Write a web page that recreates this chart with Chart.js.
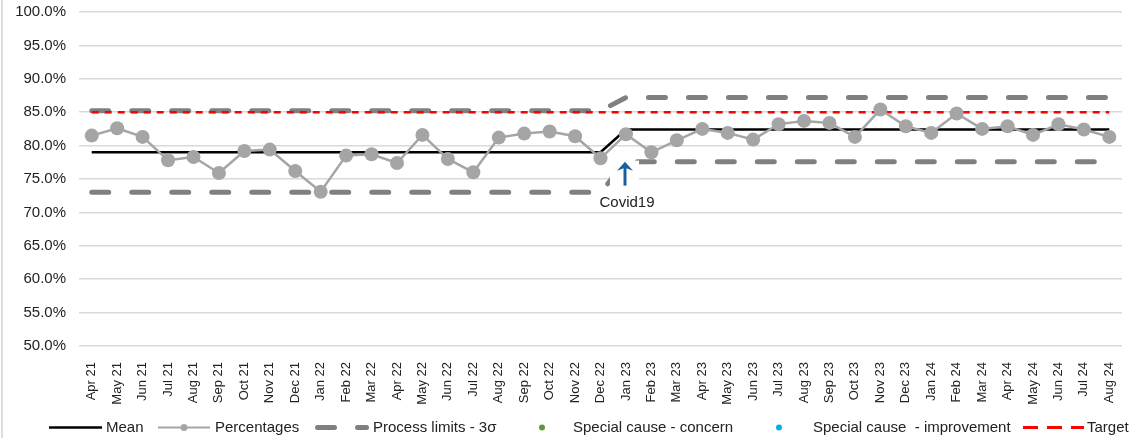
<!DOCTYPE html>
<html>
<head>
<meta charset="utf-8">
<title>SPC chart</title>
<script src="https://cdn.jsdelivr.net/npm/chart.js@4.4.1/dist/chart.umd.min.js"></script>
<style>
  html, body { margin: 0; padding: 0; background: #fff; }
  #wrap { position: relative; width: 1133px; height: 438px; overflow: hidden;
          font-family: 'Liberation Sans', Arial, sans-serif; }
  #wrap::before { content: ''; position: absolute; left: 1px; top: 0; width: 2px; height: 100%;
                  background: #dcdcdc; z-index: 2; }
  #chart { position: absolute; left: 0; top: 0; }
  #legend { position: absolute; left: 0; top: 417px; width: 1133px; height: 20px; }
  .lg-text { position: absolute; top: 0; height: 20px; line-height: 20px; font-size: 15px;
             color: #222; white-space: pre; }
  .lg-swatch { position: absolute; top: 0; }
</style>
</head>
<body>
<div id="wrap">
  <canvas id="chart" width="1133" height="438"></canvas>
  <div id="legend"></div>
</div>
<script>
// Months on the x axis
const categories = [
  'Apr 21','May 21','Jun 21','Jul 21','Aug 21','Sep 21','Oct 21','Nov 21','Dec 21',
  'Jan 22','Feb 22','Mar 22','Apr 22','May 22','Jun 22','Jul 22','Aug 22','Sep 22','Oct 22','Nov 22','Dec 22',
  'Jan 23','Feb 23','Mar 23','Apr 23','May 23','Jun 23','Jul 23','Aug 23','Sep 23','Oct 23','Nov 23','Dec 23',
  'Jan 24','Feb 24','Mar 24','Apr 24','May 24','Jun 24','Jul 24','Aug 24'
];

// Monthly percentage
const percentages = [
  81.5, 82.6, 81.3, 77.8, 78.3, 75.9, 79.2, 79.4, 76.2,
  73.1, 78.5, 78.7, 77.4, 81.6, 78.0, 76.0, 81.2, 81.8, 82.1, 81.4, 78.1,
  81.7, 79.0, 80.8, 82.5, 81.9, 80.9, 83.2, 83.7, 83.4, 81.3, 85.4, 82.9,
  81.9, 84.8, 82.5, 82.9, 81.6, 83.2, 82.4, 81.3
];

// Mean and 3-sigma limits, recalculated from Jan 23
const meanValues = [
  79.0, 79.0, 79.0, 79.0, 79.0, 79.0, 79.0, 79.0, 79.0,
  79.0, 79.0, 79.0, 79.0, 79.0, 79.0, 79.0, 79.0, 79.0, 79.0, 79.0, 79.0,
  82.4, 82.4, 82.4, 82.4, 82.4, 82.4, 82.4, 82.4, 82.4, 82.4, 82.4, 82.4,
  82.4, 82.4, 82.4, 82.4, 82.4, 82.4, 82.4, 82.4
];
const upperLimit = [
  85.2, 85.2, 85.2, 85.2, 85.2, 85.2, 85.2, 85.2, 85.2,
  85.2, 85.2, 85.2, 85.2, 85.2, 85.2, 85.2, 85.2, 85.2, 85.2, 85.2, 85.2,
  87.2, 87.2, 87.2, 87.2, 87.2, 87.2, 87.2, 87.2, 87.2, 87.2, 87.2, 87.2,
  87.2, 87.2, 87.2, 87.2, 87.2, 87.2, 87.2, 87.2
];
const lowerLimit = [
  73.0, 73.0, 73.0, 73.0, 73.0, 73.0, 73.0, 73.0, 73.0,
  73.0, 73.0, 73.0, 73.0, 73.0, 73.0, 73.0, 73.0, 73.0, 73.0, 73.0, 73.0,
  77.6, 77.6, 77.6, 77.6, 77.6, 77.6, 77.6, 77.6, 77.6, 77.6, 77.6, 77.6,
  77.6, 77.6, 77.6, 77.6, 77.6, 77.6, 77.6, 77.6
];

// Target level
const targetValues = [
  85, 85, 85, 85, 85, 85, 85, 85, 85,
  85, 85, 85, 85, 85, 85, 85, 85, 85, 85, 85, 85,
  85, 85, 85, 85, 85, 85, 85, 85, 85, 85, 85, 85,
  85, 85, 85, 85, 85, 85, 85, 85
];

// Special cause points (none flagged in this period)
const specialConcern = categories.map(() => null);
const specialImprovement = categories.map(() => null);

// Y axis range and tick step (percent)
const yTicks = { min: 50, max: 100, step: 5 };

// Event marker
const eventMonth = 'Jan 23';
const eventLabel = 'Covid19';

const FONT = "'Liberation Sans', Arial, sans-serif";

// White label box with an upward arrow and caption under the event month
const eventMarker = {
  id: 'eventMarker',
  afterDatasetsDraw(chart) {
    const { ctx, scales: { x, y } } = chart;
    const idx = categories.indexOf(eventMonth);
    const cx = Math.round(x.getPixelForValue(idx)) - 1;
    const top = y.getPixelForValue(lowerLimit[idx]) - 1;
    ctx.save();
    ctx.fillStyle = '#fff';
    ctx.fillRect(cx - 15, top, 29, 27);
    ctx.fillStyle = '#1a5f9e';
    ctx.strokeStyle = '#1a5f9e';
    ctx.lineWidth = 3;
    ctx.beginPath();
    ctx.moveTo(cx, top + 25);
    ctx.lineTo(cx, top + 6);
    ctx.stroke();
    ctx.beginPath();
    ctx.moveTo(cx, top + 1);
    ctx.lineTo(cx - 8, top + 10);
    ctx.lineTo(cx, top + 7);
    ctx.lineTo(cx + 8, top + 10);
    ctx.closePath();
    ctx.fill();
    ctx.fillStyle = '#222';
    ctx.font = '15px ' + FONT;
    ctx.textAlign = 'center';
    ctx.textBaseline = 'middle';
    ctx.fillText(eventLabel, cx + 2, y.getPixelForValue(70) - 10);
    ctx.restore();
  }
};

const limitStyle = {
  borderColor: '#808080', borderWidth: 5, borderDash: [17, 23], borderCapStyle: 'round',
  pointRadius: 0, fill: false, tension: 0
};

const chart = new Chart(document.getElementById('chart'), {
  type: 'line',
  data: {
    labels: categories,
    datasets: [
      { label: 'Percentages', data: percentages, order: 0,
        borderColor: '#a5a5a5', borderWidth: 2.5, pointRadius: 7, pointHoverRadius: 7,
        pointBackgroundColor: '#a5a5a5', pointBorderWidth: 0 },
      { label: 'Mean', data: meanValues, order: 1,
        borderColor: '#000', borderWidth: 2.5, pointRadius: 0 },
      { label: 'Target', data: targetValues, order: 2,
        borderColor: '#ff0000', borderWidth: 2.5, borderDash: [7, 6], pointRadius: 0 },
      Object.assign({ label: 'Process limits - 3σ', data: upperLimit, order: 3 }, limitStyle),
      Object.assign({ label: 'Process limits - 3σ (lower)', data: lowerLimit, order: 3 }, limitStyle),
      { label: 'Special cause - concern', data: specialConcern, order: 4, showLine: false,
        pointRadius: 3, pointBackgroundColor: '#5a9a3a', pointBorderWidth: 0 },
      { label: 'Special cause  - improvement', data: specialImprovement, order: 4, showLine: false,
        pointRadius: 3, pointBackgroundColor: '#00b0f0', pointBorderWidth: 0 }
    ]
  },
  options: {
    responsive: false,
    animation: false,
    layout: { padding: { top: 12, right: 0, bottom: 0, left: 0 } },
    plugins: { legend: { display: false }, tooltip: { enabled: false } },
    scales: {
      x: {
        offset: true,
        grid: { display: false },
        border: { display: false },
        ticks: { autoSkip: false, minRotation: 90, maxRotation: 90, padding: 8,
                 color: '#222', font: { family: FONT, size: 13 } },
        afterFit(scale) { scale.height = 92; }
      },
      y: {
        min: yTicks.min, max: yTicks.max,
        grid: { color: '#d9d9d9', lineWidth: 1.5, drawTicks: false },
        border: { display: false },
        ticks: { stepSize: yTicks.step, padding: 13, color: '#222',
                 font: { family: FONT, size: 15 },
                 callback: v => Number(v).toFixed(1) + '%' },
        afterFit(scale) {
          scale.width = 79;
          scale.paddingTop = 0;
          scale.paddingBottom = 0;
        }
      }
    }
  },
  plugins: [eventMarker]
});

// Legend below the axis
const legendLayout = [
  { label: 'Mean', kind: 'line', color: '#000', from: 49, to: 102, text: 106 },
  { label: 'Percentages', kind: 'marker', color: '#a5a5a5', from: 158, to: 210, text: 215 },
  { label: 'Process limits - 3σ', kind: 'limits', color: '#808080', from: 315, to: 369, text: 373 },
  { label: 'Special cause - concern', kind: 'dot', color: '#5a9a3a', from: 539, to: 545, text: 573 },
  { label: 'Special cause  - improvement', kind: 'dot', color: '#00b0f0', from: 776, to: 782, text: 813 },
  { label: 'Target', kind: 'target', color: '#ff0000', from: 1023, to: 1084, text: 1087 }
];
const legendEl = document.getElementById('legend');
const NS = 'http://www.w3.org/2000/svg';
legendLayout.forEach(item => {
  const w = item.to - item.from + 8;
  const svg = document.createElementNS(NS, 'svg');
  svg.setAttribute('class', 'lg-swatch');
  svg.setAttribute('width', w);
  svg.setAttribute('height', 20);
  svg.style.left = (item.from - 4) + 'px';
  const mid = 10.5, a = 4, b = 4 + item.to - item.from;
  const line = (x1, x2, width, cap) => {
    const l = document.createElementNS(NS, 'line');
    l.setAttribute('x1', x1); l.setAttribute('x2', x2);
    l.setAttribute('y1', mid); l.setAttribute('y2', mid);
    l.setAttribute('stroke', item.color); l.setAttribute('stroke-width', width);
    l.setAttribute('stroke-linecap', cap);
    svg.appendChild(l);
  };
  if (item.kind === 'line') line(a, b, 2.5, 'butt');
  if (item.kind === 'marker') {
    line(a, b, 2, 'butt');
    const c = document.createElementNS(NS, 'circle');
    c.setAttribute('cx', (a + b) / 2); c.setAttribute('cy', mid); c.setAttribute('r', 3.5);
    c.setAttribute('fill', item.color);
    svg.appendChild(c);
  }
  if (item.kind === 'limits') { line(a + 2.5, a + 19.5, 5, 'round'); line(a + 42.5, b - 2.5, 5, 'round'); }
  if (item.kind === 'dot') {
    const c = document.createElementNS(NS, 'circle');
    c.setAttribute('cx', (a + b) / 2); c.setAttribute('cy', mid); c.setAttribute('r', 3);
    c.setAttribute('fill', item.color);
    svg.appendChild(c);
  }
  if (item.kind === 'target') { line(a, a + 15, 3, 'butt'); line(a + 24, a + 39, 3, 'butt'); line(a + 48, b, 3, 'butt'); }
  legendEl.appendChild(svg);
  const t = document.createElement('span');
  t.className = 'lg-text';
  t.style.left = item.text + 'px';
  t.textContent = item.label;
  legendEl.appendChild(t);
});
</script>
</body>
</html>
